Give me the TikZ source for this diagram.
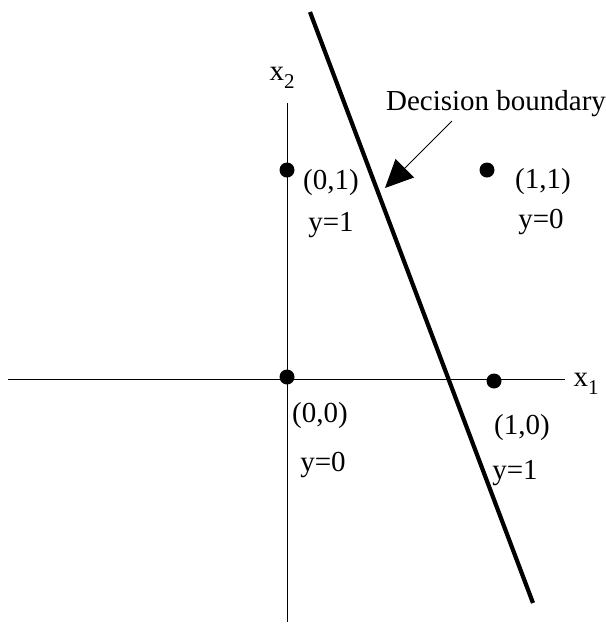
\documentclass[tikz,border=0pt]{standalone}
\usepackage{fontspec}
\setmainfont{Liberation Serif}
\usetikzlibrary{arrows.meta}
\begin{document}
\begin{tikzpicture}[x=1pt,y=-1pt,
  lbl/.style={inner sep=0pt,font=\fontsize{29}{31}\selectfont},
  pt/.style={circle,fill=black,inner sep=0pt,minimum size=15pt},
  axis/.style={line width=1pt},
  bound/.style={line width=4.2pt},
  pointer/.style={line width=1pt,-{Triangle[length=28pt,width=26pt]}}]
\useasboundingbox (0,0) rectangle (606,625);
% axes
\coordinate (xl) at (8,379);
\coordinate (xr) at (565,379);
\coordinate (yt) at (287,103);
\coordinate (yb) at (287,622);
\draw[axis] (xl) -- (xr);
\draw[axis] (yt) -- (yb);
% decision boundary
\coordinate (bt) at (310,12);
\coordinate (bb) at (533,603);
\draw[bound] (bt) -- (bb);
% points
\node[pt] (p01) at (287,170) {};
\node[pt] (p00) at (287,377) {};
\node[pt] (p11) at (487,170) {};
\node[pt] (p10) at (494,381) {};
% labels
\node[lbl] (x2) at (282,78) {x\raisebox{-0.28em}{\fontsize{21}{21}\selectfont 2}};
\node[lbl] (x1) at (586,384) {x\raisebox{-0.28em}{\fontsize{21}{21}\selectfont 1}};
\node[lbl] (l01) at (331,183) {(0,1)};
\node[lbl] (y01) at (331,225) {y=1};
\node[lbl] (l11) at (543,182) {(1,1)};
\node[lbl] (y11) at (541,222) {y=0};
\node[lbl] (l00) at (320,416) {(0,0)};
\node[lbl] (y00) at (323,465) {y=0};
\node[lbl] (l10) at (522,428) {(1,0)};
\node[lbl] (y10) at (515,473) {y=1};
\node[lbl] (db) at (496,104) {Decision boundary};
% pointer
\coordinate (as) at (452,121);
\coordinate (tip) at (385,188);
\draw[pointer] (as) -- (tip);
\end{tikzpicture}
\end{document}
